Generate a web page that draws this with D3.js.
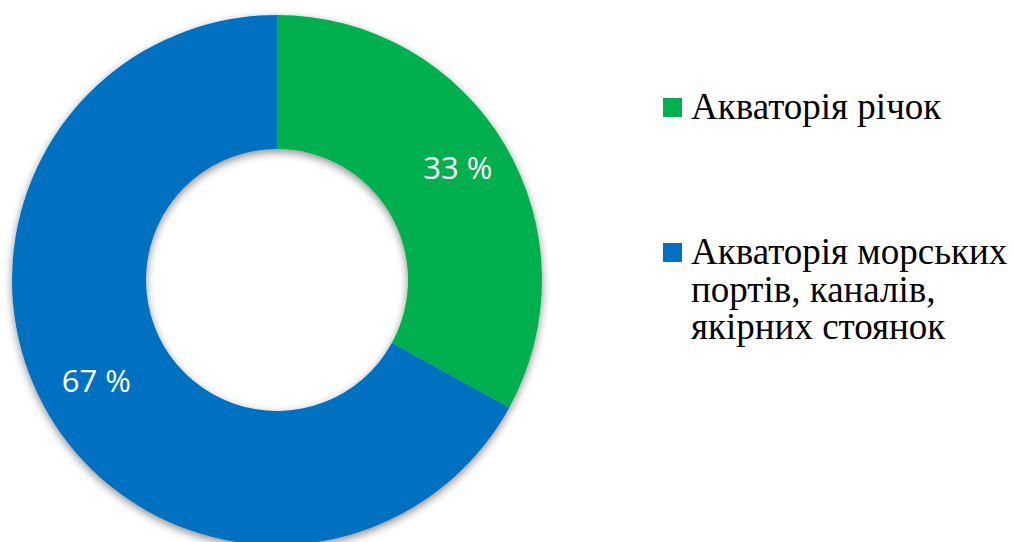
<!DOCTYPE html>
<html>
<head>
<meta charset="utf-8">
<script src="https://cdn.jsdelivr.net/npm/d3@7"></script>
<style>
  body { margin: 0; background: #fff; }
  svg { display: block; }
</style>
</head>
<body>
<div id="chart"></div>
<script>
// Data
var categories = ['Акваторія річок', 'Акваторія морських портів, каналів, якірних стоянок'];
var legendLines = [['Акваторія річок'], ['Акваторія морських', 'портів, каналів,', 'якірних стоянок']];
var shares = [33, 67];
var labels = ['33 %', '67 %'];
var colors = ['#00B050', '#0070C0'];

var width = 1014, height = 542;
var cx = 277, cy = 280;
var outerR = 265, innerR = 131;

var svg = d3.select('#chart').append('svg')
    .attr('width', width)
    .attr('height', height);

// soft shadow like the office chart
var defs = svg.append('defs');
var f = defs.append('filter').attr('id', 'shadow')
    .attr('x', '-10%').attr('y', '-10%').attr('width', '120%').attr('height', '120%');
f.append('feDropShadow')
    .attr('dx', 0).attr('dy', 3)
    .attr('stdDeviation', 4)
    .attr('flood-color', '#000')
    .attr('flood-opacity', 0.45);

var pie = d3.pie().sort(null).value(function(d) { return d; });
var arc = d3.arc().innerRadius(innerR).outerRadius(outerR);
var labelArc = d3.arc().innerRadius(210).outerRadius(210);

var g = svg.append('g').attr('transform', 'translate(' + cx + ',' + cy + ')');

var arcs = pie(shares);

g.append('g')
    .attr('filter', 'url(#shadow)')
    .selectAll('path')
    .data(arcs)
    .enter()
    .append('path')
    .attr('d', arc)
    .attr('fill', function(d, i) { return colors[i]; });

// Slice labels
g.selectAll('.slice-label')
    .data(arcs)
    .enter()
    .append('text')
    .attr('class', 'slice-label')
    .attr('transform', function(d) {
        var c = labelArc.centroid(d);
        return 'translate(' + c[0] + ',' + c[1] + ')';
    })
    .attr('text-anchor', 'middle')
    .attr('dy', '0.18em')
    .attr('fill', '#fff')
    .style('font-family', '"Open Sans", sans-serif')
    .style('font-size', '31px')
    .text(function(d, i) { return labels[i]; });

// Legend
var legendTop = [98, 243];
var legend = svg.selectAll('.legend')
    .data(categories)
    .enter()
    .append('g')
    .attr('class', 'legend')
    .attr('transform', function(d, i) { return 'translate(663,' + legendTop[i] + ')'; });

legend.append('rect')
    .attr('width', 19)
    .attr('height', 19)
    .attr('fill', function(d, i) { return colors[i]; });

legend.append('text')
    .attr('x', 28)
    .attr('y', 21)
    .attr('fill', '#000')
    .style('font-family', '"Liberation Serif", "Times New Roman", serif')
    .style('font-size', '37px')
    .each(function(d, i) {
        var t = d3.select(this);
        legendLines[i].forEach(function(line, j) {
            t.append('tspan')
                .attr('x', 28)
                .attr('dy', j === 0 ? 0 : 37.5)
                .text(line);
        });
    });
</script>
</body>
</html>
